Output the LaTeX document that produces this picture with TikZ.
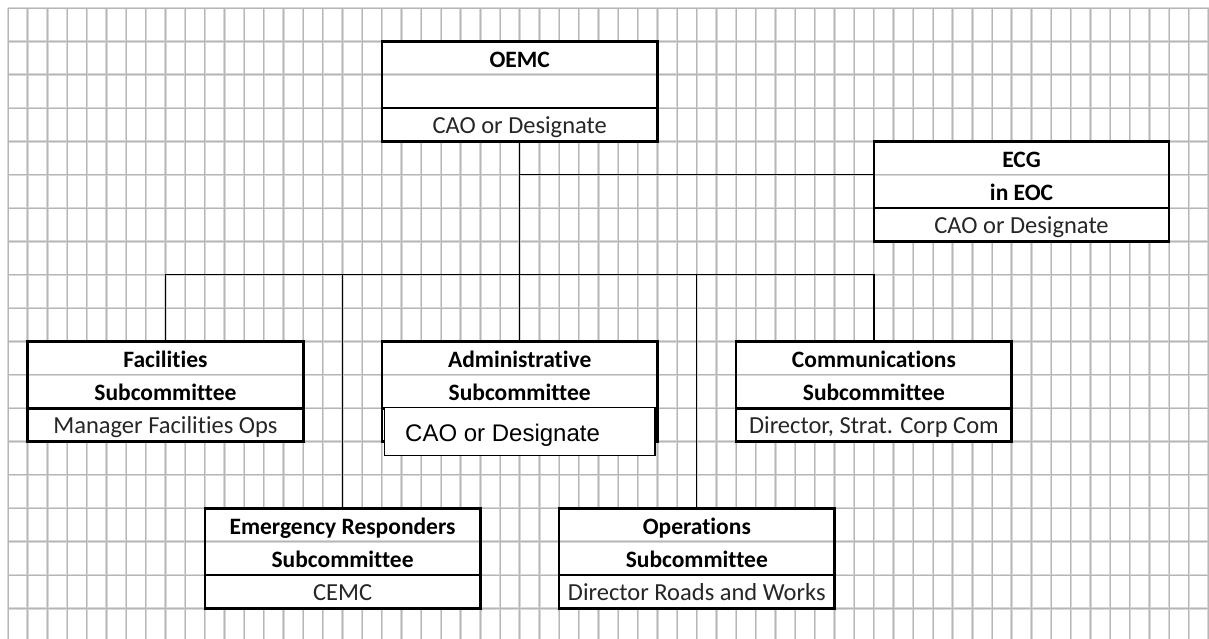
\documentclass[tikz,border=0pt]{standalone}
\usepackage{fontspec}
\newfontfamily\calibri[Ligatures=NoCommon]{Carlito}
\newfontfamily\arialf{Liberation Sans}
\definecolor{gridlight}{HTML}{D8D8D8}
\definecolor{griddark}{HTML}{B6B6B6}
\definecolor{txtgray}{HTML}{262626}
\tikzset{
  gridA/.style={line width=2.4pt, gridlight},
  gridB/.style={line width=0.9pt, griddark},
  boxfill/.style={rectangle, fill=white, inner sep=0pt, outer sep=0pt, anchor=north west,
    minimum height=100.05pt},
  border/.style={line width=2.6pt, black},
  thindiv/.style={line width=1.4pt, black},
  conn/.style={line width=1.2pt, black},
  ttl/.style={anchor=base, inner sep=0pt, font=\calibri\bfseries\fontsize{23.5}{27}\selectfont, text=black},
  nm/.style={anchor=base, inner sep=0pt, font=\calibri\fontsize{24.5}{28}\selectfont, text=txtgray},
  tbox/.style={rectangle, draw=black, line width=1.3pt, fill=white, inner sep=0pt, outer sep=0pt,
    anchor=north west, minimum width=270.7pt, minimum height=48pt},
}
\begin{document}
\begin{tikzpicture}[x=1pt,y=-1pt]
\useasboundingbox (0,0) rectangle (1209,639);
\fill[white] (0,0) rectangle (1209,639);
% spreadsheet grid
\foreach \i in {0,...,61}{
  \draw[gridA] ({8+19.68*\i},8) -- ({8+19.68*\i},639);
}
\foreach \j in {0,...,18}{
  \draw[gridA] (8,{8+33.35*\j}) -- (1209,{8+33.35*\j});
}
\foreach \i in {0,...,61}{
  \draw[gridB] ({8+19.68*\i},8) -- ({8+19.68*\i},639);
}
\foreach \j in {0,...,18}{
  \draw[gridB] (8,{8+33.35*\j}) -- (1209,{8+33.35*\j});
}

% box backgrounds
\node[boxfill, minimum width=275.52pt] (oemc) at (381.92,41.35) {};
\node[boxfill, minimum width=295.2pt]  (ecg)  at (873.92,141.4) {};
\node[boxfill, minimum width=275.52pt] (fac)  at (27.68,341.5) {};
\node[boxfill, minimum width=275.52pt] (adm)  at (381.92,341.5) {};
\node[boxfill, minimum width=275.52pt] (com)  at (736.16,341.5) {};
\node[boxfill, minimum width=275.52pt] (emr)  at (204.8,508.25) {};
\node[boxfill, minimum width=275.52pt] (ops)  at (559.04,508.25) {};

% connectors
\coordinate (j1) at (519.68,174.75);
\coordinate (bus) at (519.68,274.8);
\draw[conn] (oemc.south) -- (adm.north);
\draw[conn] (j1) -- (j1 -| ecg.west);
\draw[conn] (fac.north) -- (fac.north |- bus) -- (com.north |- bus) -- (com.north);
\draw[conn] (emr.north) -- (emr.north |- bus);
\draw[conn] (ops.north) -- (ops.north |- bus);

% gray dividers (grid line between the first two rows)
\foreach \b in {oemc,ecg,fac,adm,com,emr,ops}{
  \draw[gridA] ([yshift=-33.35pt]\b.north west) -- ([yshift=-33.35pt]\b.north east);
  \draw[gridB] ([yshift=-33.35pt]\b.north west) -- ([yshift=-33.35pt]\b.north east);
}
% black dividers above the last row
\foreach \b in {oemc,ecg,fac,adm,com}{
  \draw[border] ([yshift=-66.7pt]\b.north west) -- ([yshift=-66.7pt]\b.north east);
}
\foreach \b in {emr,ops}{
  \draw[thindiv] ([yshift=-66.7pt]\b.north west) -- ([yshift=-66.7pt]\b.north east);
}
% borders
\foreach \b in {oemc,ecg,fac,adm,com,emr,ops}{
  \draw[border] (\b.north west) rectangle (\b.south east);
}

% texts
\node[ttl] (t-oemc) at (519.68,67.6) {OEMC};
\node[nm]  (n-oemc) at (519.68,133.6) {CAO or Designate};

\node[ttl] (t-ecg1) at (1021.52,167.6) {ECG};
\node[ttl] (t-ecg2) at (1021.52,200.9) {in EOC};
\node[nm]  (n-ecg)  at (1021.52,233.8) {CAO or Designate};

\node[ttl] (t-fac1) at (165.44,367.6) {Facilities};
\node[ttl] (t-fac2) at (165.44,400.9) {Subcommittee};
\node[nm]  (n-fac)  at (165.44,433.8) {Manager Facilities Ops};

\node[ttl] (t-adm1) at (519.68,367.6) {Administrative};
\node[ttl] (t-adm2) at (519.68,400.9) {Subcommittee};

\node[ttl] (t-com1) at (873.92,367.6) {Communications};
\node[ttl] (t-com2) at (873.92,400.9) {Subcommittee};
\node[nm]  (n-com)  at (873.92,433.8) {Director, Strat. Corp Com};

\node[ttl] (t-emr1) at (342.56,534.4) {Emergency Responders};
\node[ttl] (t-emr2) at (342.56,567.7) {Subcommittee};
\node[nm]  (n-emr)  at (342.56,600.8) {CEMC};

\node[ttl] (t-ops1) at (696.8,534.4) {Operations};
\node[ttl] (t-ops2) at (696.8,567.7) {Subcommittee};
\node[nm]  (n-ops)  at (696.8,600.8) {Director Roads and Works};

% overlaid text box in the Administrative box
\node[tbox] (admtxt) at (384.3,407.7) {};
\node[anchor=base west, inner sep=0pt, font=\arialf\fontsize{24}{28}\selectfont] (n-adm) at (405,441) {CAO or Designate};
\end{tikzpicture}
\end{document}
